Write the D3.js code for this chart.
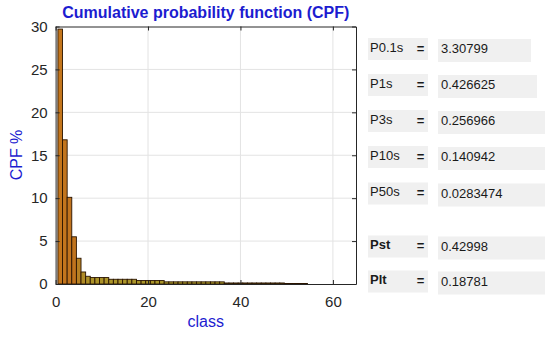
<!DOCTYPE html>
<html>
<head>
<meta charset="utf-8">
<script src="https://cdn.jsdelivr.net/npm/d3@7"></script>
<style>
  html, body { margin: 0; padding: 0; background: #ffffff; }
  svg { display: block; font-family: "Liberation Sans", Arial, sans-serif; }
</style>
</head>
<body>
<div id="chart"></div>
<script>
// ---- data ----
const classes = d3.range(1, 55)
const cpfValues = [
  29.7, 16.8, 10.1, 5.5, 3.0, 1.4, 0.9,
  0.75, 0.75, 0.75, 0.75,
  0.55, 0.55, 0.55, 0.55, 0.55, 0.55,
  0.4, 0.4, 0.4, 0.4, 0.4, 0.4,
  0.25, 0.25, 0.25, 0.25, 0.25, 0.25, 0.25, 0.25, 0.25, 0.25, 0.25, 0.25, 0.25,
  0.12, 0.12, 0.12, 0.12, 0.12, 0.12, 0.12, 0.12, 0.12, 0.12, 0.12, 0.12, 0.12,
  0.06, 0.06, 0.06, 0.06, 0.06
]
const xTicks = [0, 20, 40, 60]
const yTicks = [0, 5, 10, 15, 20, 25, 30]
const paramNames = ['P0.1s', 'P1s', 'P3s', 'P10s', 'P50s', 'Pst', 'Plt']
const paramValues = ['3.30799', '0.426625', '0.256966', '0.140942', '0.0283474', '0.42998', '0.18781']

// ---- layout ----
const W = 550, H = 339
const margin = { top: 26.5, right: 194, bottom: 55, left: 55.6 }
const rowBase = [51.5, 87.5, 123.5, 159.5, 196, 249, 284]
const valueBoxWidth = [93, 99, 107, 107, 107, 107, 107]
const boldRows = ['Pst', 'Plt']

const axisColor = '#262626'
const gridColor = '#e3e3e3'
const blue = '#1c1cd0'

const svg = d3.select('#chart').append('svg')
  .attr('width', W).attr('height', H)

const x = d3.scaleLinear().domain([0, 65]).range([margin.left, W - margin.right])
const y = d3.scaleLinear().domain([0, 30]).range([H - margin.bottom, margin.top])

// bar fill: short bars olive, tall bars orange-brown
const fill = d3.scaleLinear().domain([0, 1.5, 5, 30])
  .range(['#a89c2c', '#b08a26', '#c0741e', '#c4761c'])

// gridlines
svg.append('g').selectAll('line').data(xTicks.filter(d => d > 0))
  .enter().append('line')
  .attr('x1', d => x(d)).attr('x2', d => x(d))
  .attr('y1', y(0)).attr('y2', y(30))
  .attr('stroke', gridColor).attr('stroke-width', 1)
svg.append('g').selectAll('line').data(yTicks.filter(d => d > 0 && d < 30))
  .enter().append('line')
  .attr('x1', x(0)).attr('x2', x(65))
  .attr('y1', d => y(d)).attr('y2', d => y(d))
  .attr('stroke', gridColor).attr('stroke-width', 1)

// bars
svg.append('g').selectAll('rect').data(classes)
  .enter().append('rect')
  .attr('x', (d) => x(d - 0.5))
  .attr('width', d => x(d + 0.5) - x(d - 0.5))
  .attr('y', (d, i) => y(cpfValues[i]))
  .attr('height', (d, i) => y(0) - y(cpfValues[i]))
  .attr('fill', (d, i) => fill(cpfValues[i]))
  .attr('stroke', '#2a1400').attr('stroke-width', 0.9)

// axes (ticks inward, box on)
function styleAxis(g, labels) {
  g.select('.domain').attr('stroke', axisColor)
  g.selectAll('.tick line').attr('stroke', axisColor)
  g.selectAll('.tick text')
    .attr('fill', axisColor).attr('font-size', '15px')
    .attr('font-family', '"Liberation Sans", Arial, sans-serif')
  if (!labels) g.selectAll('.tick text').remove()
}

svg.append('g')
  .attr('transform', `translate(0,${y(0)})`)
  .call(d3.axisBottom(x).tickValues(xTicks).tickSizeInner(-4).tickSizeOuter(0).tickPadding(12))
  .call(g => styleAxis(g, true))
svg.append('g')
  .attr('transform', `translate(0,${y(30)})`)
  .call(d3.axisTop(x).tickValues(xTicks).tickSizeInner(-4).tickSizeOuter(0))
  .call(g => styleAxis(g, false))
svg.append('g')
  .attr('transform', `translate(${x(0)},0)`)
  .call(d3.axisLeft(y).tickValues(yTicks).tickSizeInner(-4).tickSizeOuter(0).tickPadding(8))
  .call(g => styleAxis(g, true))
svg.append('g')
  .attr('transform', `translate(${x(65)},0)`)
  .call(d3.axisRight(y).tickValues(yTicks).tickSizeInner(-4).tickSizeOuter(0))
  .call(g => styleAxis(g, false))

// title and axis labels
svg.append('text')
  .attr('x', (x(0) + x(65)) / 2).attr('y', 18)
  .attr('text-anchor', 'middle')
  .attr('fill', blue).attr('font-size', '16px').attr('font-weight', 'bold')
  .text('Cumulative probability function (CPF)')

svg.append('text')
  .attr('x', (x(0) + x(65)) / 2).attr('y', 327)
  .attr('text-anchor', 'middle')
  .attr('fill', blue).attr('font-size', '16px')
  .text('class')

svg.append('text')
  .attr('transform', `translate(22,155) rotate(-90)`)
  .attr('text-anchor', 'middle')
  .attr('fill', blue).attr('font-size', '16px')
  .text('CPF %')

// parameter panel
const panel = svg.append('g')
const rows = panel.selectAll('g').data(paramNames).enter().append('g')

rows.append('rect')
  .attr('x', 368).attr('y', (d, i) => rowBase[i] - 13.5)
  .attr('width', 60).attr('height', 22)
  .attr('fill', '#f0f0f0')
rows.append('rect')
  .attr('x', 438).attr('y', (d, i) => rowBase[i] - 12.5)
  .attr('width', (d, i) => valueBoxWidth[i]).attr('height', 23)
  .attr('fill', '#f0f0f0')

rows.append('text')
  .attr('x', 370).attr('y', (d, i) => rowBase[i])
  .attr('font-size', '13px')
  .attr('font-weight', d => boldRows.includes(d) ? 'bold' : 'normal')
  .attr('fill', '#1a1a1a')
  .text(d => d)
rows.append('text')
  .attr('x', 420.5).attr('y', (d, i) => rowBase[i] + 1)
  .attr('text-anchor', 'middle')
  .attr('font-size', '13px').attr('font-weight', 'bold')
  .attr('fill', '#1a1a1a')
  .text('=')
rows.append('text')
  .attr('x', 441).attr('y', (d, i) => rowBase[i] + 1.5)
  .attr('font-size', '13px')
  .attr('fill', '#1a1a1a')
  .text((d, i) => paramValues[i])
</script>
</body>
</html>
